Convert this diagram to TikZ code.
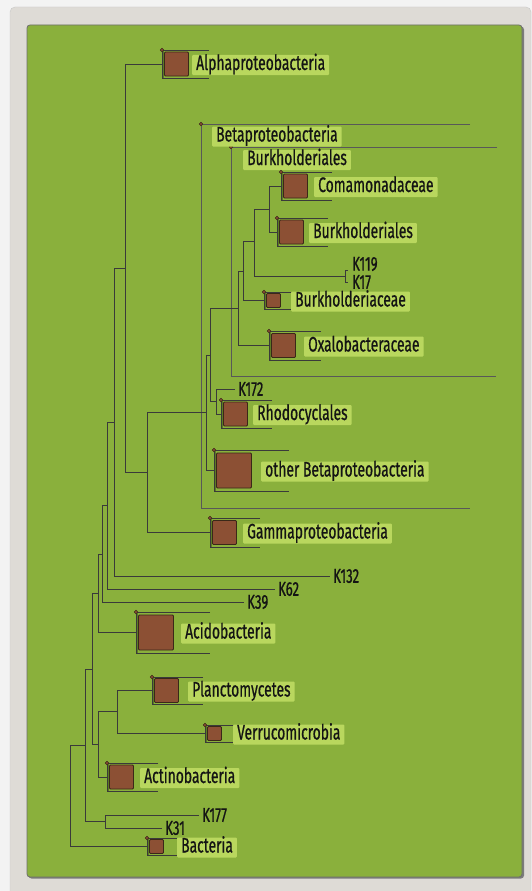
\documentclass[tikz,border=0pt]{standalone}
\usepackage{fontspec}
\setmainfont[FakeStretch=0.66,FakeBold=0.7]{Fira Sans}
\usepackage{tikz}

\definecolor{pagegrey}{HTML}{F3F3F3}
\definecolor{framegrey}{HTML}{DEDBD6}
\definecolor{paneledge}{HTML}{6E6E6E}
\definecolor{panelgreen}{HTML}{8AB03C}
\definecolor{cladegreen}{HTML}{5C7A24}
\definecolor{tagfill}{HTML}{B9D75E}
\definecolor{leafbrown}{HTML}{8C5034}
\definecolor{leafedge}{HTML}{3A2818}
\definecolor{branchgrey}{HTML}{3A3A3A}

\tikzset{
  branch/.style={draw=branchgrey, line width=0.9pt},
  bracketline/.style={draw=branchgrey!85!white, line width=1pt},
  elbow/.style={to path={|- (\tikztotarget)}},
  leaf/.style={rectangle, draw=leafedge, fill=leafbrown, line width=0.8pt, rounded corners=1pt, inner sep=0pt},
  tag/.style={rectangle, fill=tagfill, rounded corners=1pt, anchor=west, inner xsep=4pt, inner ysep=0.5pt,
    text height=14.5pt, text depth=4.5pt, text=black!92, font=\fontsize{21}{21}\selectfont},
  klabel/.style={anchor=west, inner xsep=3pt, inner ysep=0pt, text=black!92, font=\fontsize{20}{20}\selectfont},
  knot/.style={circle, draw=leafedge, fill=leafbrown, line width=0.5pt, inner sep=0pt, minimum size=3.6pt},
}

% collapsed clade: name, x, y, half height, length, box size, label x, label
\newcommand{\clade}[8]{%
  \coordinate (#1) at (#2,#3);
  \draw[cladegreen, line width=2.2pt] (#2+1.2,#3-#4) -- (#2+1.2,#3+#4);
  \draw[branch] (#2+#5,#3-#4) -- (#2,#3-#4) -- (#2,#3+#4) -- (#2+#5,#3+#4);
  \node[leaf, minimum size=#6pt] (#1box) at (#2+2.5+#6/2,#3) {};
  \node[knot] (#1knot) at (#2,#3-#4) {};
  \node[tag] (#1tag) at (#7,#3+1) {#8};
}

\begin{document}
\begin{tikzpicture}[x=1pt,y=-1pt]
\useasboundingbox (0,0) rectangle (532,891);
\fill[pagegrey] (0,0) rectangle (532,891);
\filldraw[fill=framegrey, draw=black!22, rounded corners=5pt] (10,7) rectangle (531,905);
\fill[paneledge!90, rounded corners=3pt] (28.5,26.5) rectangle (524,878.5);
\filldraw[fill=panelgreen, draw=paneledge, line width=0.8pt, rounded corners=3pt] (27,25) rectangle (522,877);

% expanded groups
\draw[bracketline] (470,124) -- (201,124) -- (201,508) -- (470,508);
\draw[bracketline] (497,147) -- (231,147) -- (231,376) -- (496,376);
\node[knot] (betaknot) at (201,124) {};
\node[knot] (burkknot) at (231,147) {};
\node[tag] (betatag) at (212,136.5) {Betaproteobacteria};
\node[tag] (burktag) at (243,160) {Burkholderiales};

% collapsed groups
\clade{alpha}{162}{64}{14}{47}{24}{192}{Alphaproteobacteria}
\clade{coma}{281}{186}{14}{51}{24}{314}{Comamonadaceae}
\clade{burkin}{277}{232}{14}{51}{24}{309}{Burkholderiales}
\clade{burkaceae}{264}{300.5}{8.5}{29}{14}{291}{Burkholderiaceae}
\clade{oxalo}{269}{345.5}{14.5}{52}{24}{304}{Oxalobacteraceae}
\clade{rhodo}{221}{414}{14}{51}{24}{253}{Rhodocyclales}
\clade{otherbeta}{214}{470.5}{20.5}{75}{35}{261}{other Betaproteobacteria}
\clade{gamma}{210}{532.5}{14.5}{50}{24}{243}{Gammaproteobacteria}
\clade{acido}{136}{632.5}{20.5}{74}{35}{181}{Acidobacteria}
\clade{plancto}{152}{690.5}{13.5}{51}{24}{188}{Planctomycetes}
\clade{verruco}{205}{733.5}{8.5}{30}{14}{233}{Verrucomicrobia}
\clade{actino}{107}{777}{14}{51}{24}{140}{Actinobacteria}
\clade{bacteria}{147}{846.5}{8.5}{30}{14}{177}{Bacteria}

% single sequences
\node[klabel] (k132) at (330,576) {K132};
\node[klabel] (k62) at (275,589) {K62};
\node[klabel] (k39) at (244,602) {K39};
\node[klabel] (k172) at (235,389) {K172};
\node[klabel] (k177) at (199,815) {K177};
\node[klabel] (k31) at (162,828) {K31};
\node[klabel] (k119) at (349,264) {K119};
\node[klabel] (k17) at (349,282) {K17};

% inner nodes
\coordinate (root) at (70,796);
\coordinate (n85) at (85,745);
\coordinate (n92) at (92,669);
\coordinate (n98a) at (98,593);
\coordinate (n102) at (102,554);
\coordinate (n107) at (107,505.5);
\coordinate (n114) at (114,422);
\coordinate (n125) at (125,268);
\coordinate (n147) at (147,472.5);
\coordinate (n206) at (206,412);
\coordinate (n210) at (210,355);
\coordinate (n216) at (216,401.5);
\coordinate (n238) at (238,308);
\coordinate (n243) at (243,271);
\coordinate (n254) at (254,241.5);
\coordinate (n269) at (269,209);
\coordinate (kk) at (345,276);
\coordinate (kk119) at (347.5,270);
\coordinate (kk17) at (347.5,282);
\coordinate (n98b) at (98,744.5);
\coordinate (n117) at (117,711.5);
\coordinate (n105) at (105,821.5);

\path[branch] (root) edge[elbow] (n85) edge[elbow] (bacteria);
\path[branch] (n85) edge[elbow] (n92) edge[elbow] (n105);
\path[branch] (n92) edge[elbow] (n98a) edge[elbow] (n98b);
\path[branch] (n98a) edge[elbow] (n102) edge[elbow] (acido);
\path[branch] (n102) edge[elbow] (n107) edge[elbow] (k39.west);
\path[branch] (n107) edge[elbow] (n114) edge[elbow] (k62.west);
\path[branch] (n114) edge[elbow] (n125) edge[elbow] (k132.west);
\path[branch] (n125) edge[elbow] (alpha) edge[elbow] (n147);
\path[branch] (n147) edge[elbow] (n206) edge[elbow] (gamma);
\path[branch] (n206) edge[elbow] (n210) edge[elbow] (otherbeta);
\path[branch] (n210) edge[elbow] (n238) edge[elbow] (n216);
\path[branch] (n216) edge[elbow] (k172.west) edge[elbow] (rhodo);
\path[branch] (n238) edge[elbow] (n243) edge[elbow] (oxalo);
\path[branch] (n243) edge[elbow] (n254) edge[elbow] (burkaceae);
\path[branch] (n254) edge[elbow] (n269) edge[elbow] (kk);
\path[branch] (n269) edge[elbow] (coma) edge[elbow] (burkin);
\path[branch] (kk) edge[elbow] (kk119) edge[elbow] (kk17);
\path[branch] (n98b) edge[elbow] (n117) edge[elbow] (actino);
\path[branch] (n117) edge[elbow] (plancto) edge[elbow] (verruco);
\path[branch] (n105) edge[elbow] (k177.west) edge[elbow] (k31.west);

\end{tikzpicture}
\end{document}
